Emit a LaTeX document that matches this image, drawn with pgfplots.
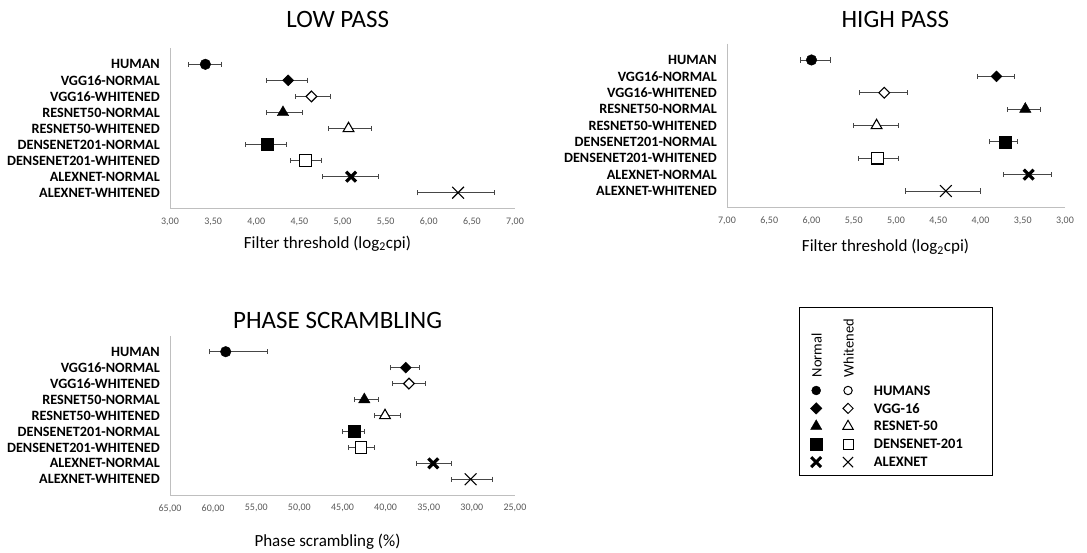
\documentclass[border=0pt]{standalone}
\usepackage{fontspec}
\setmainfont{Carlito}
\usepackage{pgfplots}
\pgfplotsset{compat=1.18}

\definecolor{axisgray}{RGB}{191,191,191}
\definecolor{tickgray}{RGB}{89,89,89}
\definecolor{bargray}{RGB}{70,70,70}

\pgfplotsset{
  panel/.style={
    scale only axis, anchor=south west, clip=false,
    ymin=0, ymax=10, y dir=reverse,
    ytick={1,...,9},
    yticklabels={HUMAN,VGG16-NORMAL,VGG16-WHITENED,RESNET50-NORMAL,RESNET50-WHITENED,DENSENET201-NORMAL,DENSENET201-WHITENED,ALEXNET-NORMAL,ALEXNET-WHITENED},
    axis x line*=bottom, axis y line*=left,
    axis line style={draw=axisgray, line width=0.9pt, -},
    major tick length=0pt, tick style={draw=none},
    yticklabel style={font=\fontsize{14.2}{16}\selectfont\bfseries, inner sep=0pt, xshift=-10pt},
    xticklabel style={font=\fontsize{10}{11}\selectfont, text=tickgray, inner sep=0pt, yshift=-9pt},
    /pgf/number format/fixed,
    /pgf/number format/fixed zerofill,
    /pgf/number format/precision=2,
    /pgf/number format/use comma,
    /pgf/number format/assume math mode=true,
  },
  ttl/.style n args={3}{every axis title/.style={at={(axis description cs:#1,1)}, anchor=base, yshift=#2, font=\fontsize{25}{30}\selectfont}, title={#3}},
  xlab/.style n args={3}{every axis x label/.style={at={(axis description cs:#1,0)}, anchor=base, yshift=#2, font=\fontsize{17}{20}\selectfont}, xlabel={#3}},
  eb/.style={error bars/x dir=both, error bars/x explicit,
    error bars/error bar style={draw=bargray, line width=0.8pt},
    error bars/error mark options={draw=bargray, line width=0.8pt, mark size=2.6pt, rotate=90}},
  m circ/.style={only marks, eb, mark=*, mark size=5.3pt, mark options={draw=black, fill=black}},
  m dia/.style={only marks, eb, mark=square*, mark size=3.9pt, mark options={rotate=45, draw=black, fill=black}},
  m dia o/.style={only marks, eb, mark=square*, mark size=3.8pt, mark options={rotate=45, draw=black, fill=white, line width=1.1pt}},
  m tri/.style={only marks, eb, mark=triangle*, mark size=6.6pt, mark options={draw=black, fill=black}},
  m tri o/.style={only marks, eb, mark=triangle*, mark size=6.2pt, mark options={draw=black, fill=white, line width=1.1pt}},
  m sq/.style={only marks, eb, mark=square*, mark size=6pt, mark options={draw=black, fill=black}},
  m sq o/.style={only marks, eb, mark=square*, mark size=5.7pt, mark options={draw=black, fill=white, line width=1.1pt}},
  m x/.style={only marks, eb, mark=x, mark size=7pt, mark options={draw=black, line width=3.2pt}},
  m x o/.style={only marks, eb, mark=x, mark size=8.3pt, mark options={draw=black, line width=1.1pt}},
  lg/.style={legend image code/.code={\path[draw=none, fill=none] (0pt,0pt) rectangle (17pt,0pt); \draw[##1] plot coordinates {(8.5pt,4.7pt)};}},
  lg head/.style={legend image code/.code={\path[draw=none, fill=none] (0pt,0pt) rectangle (17pt,0pt);
      \node[rotate=90, anchor=base west, inner sep=0pt, draw=none, fill=none, text=black, font=\fontsize{14.5}{16}\selectfont\mdseries] at (14pt,0pt) {#1};}},
}

\begin{document}
\begin{tikzpicture}
\path[use as bounding box] (0pt,0pt) rectangle (1087pt,552pt);

% low pass
\begin{axis}[panel, at={(170pt,343.25pt)}, width=345pt, height=160.5pt,
  xmin=3, xmax=7, xtick={3,3.5,...,7},
  ttl={0.486}{21pt}{LOW PASS},
  xlab={0.4565}{-39.5pt}{Filter threshold (log\textsubscript{2}cpi)}]
\addplot[m circ]  coordinates {(3.41,1) += (0.19,0) -= (0.20,0)};
\addplot[m dia]   coordinates {(4.37,2) += (0.22,0) -= (0.25,0)};
\addplot[m dia o] coordinates {(4.64,3) += (0.22,0) -= (0.19,0)};
\addplot[m tri]   coordinates {(4.31,4) += (0.23,0) -= (0.19,0)};
\addplot[m tri o] coordinates {(5.07,5) += (0.26,0) -= (0.23,0)};
\addplot[m sq]    coordinates {(4.13,6) += (0.22,0) -= (0.25,0)};
\addplot[m sq o]  coordinates {(4.57,7) += (0.18,0) -= (0.17,0)};
\addplot[m x]     coordinates {(5.10,8) += (0.32,0) -= (0.33,0)};
\addplot[m x o]   coordinates {(6.34,9) += (0.42,0) -= (0.47,0)};
\end{axis}

% high pass
\begin{axis}[panel, at={(727pt,344.6pt)}, width=338pt, height=163.8pt,
  xmin=3, xmax=7, xtick={3,3.5,...,7}, x dir=reverse,
  ttl={0.498}{16.3pt}{HIGH PASS},
  xlab={0.469}{-44.3pt}{Filter threshold (log\textsubscript{2}cpi)}]
\addplot[m circ]  coordinates {(6.00,1) += (0.13,0) -= (0.22,0)};
\addplot[m dia]   coordinates {(3.81,2) += (0.23,0) -= (0.21,0)};
\addplot[m dia o] coordinates {(5.14,3) += (0.29,0) -= (0.27,0)};
\addplot[m tri]   coordinates {(3.47,4) += (0.21,0) -= (0.18,0)};
\addplot[m tri o] coordinates {(5.23,5) += (0.27,0) -= (0.26,0)};
\addplot[m sq]    coordinates {(3.71,6) += (0.18,0) -= (0.15,0)};
\addplot[m sq o]  coordinates {(5.22,7) += (0.22,0) -= (0.25,0)};
\addplot[m x]     coordinates {(3.43,8) += (0.30,0) -= (0.27,0)};
\addplot[m x o]   coordinates {(4.41,9) += (0.48,0) -= (0.41,0)};
\end{axis}

% phase scrambling
\begin{axis}[panel, at={(170pt,56.75pt)}, width=345pt, height=159.5pt,
  xmin=25, xmax=65, xtick={25,30,...,65}, x dir=reverse,
  ttl={0.486}{7.45pt}{PHASE SCRAMBLING},
  xlab={0.4565}{-50.75pt}{Phase scrambling (\%)}]
\addplot[m circ]  coordinates {(58.54,1) += (1.94,0) -= (4.87,0)};
\addplot[m dia]   coordinates {(37.67,2) += (1.74,0) -= (1.57,0)};
\addplot[m dia o] coordinates {(37.29,3) += (1.94,0) -= (1.86,0)};
\addplot[m tri]   coordinates {(42.47,4) += (1.16,0) -= (1.62,0)};
\addplot[m tri o] coordinates {(40.07,5) += (1.28,0) -= (1.82,0)};
\addplot[m sq]    coordinates {(43.63,6) += (1.35,0) -= (1.16,0)};
\addplot[m sq o]  coordinates {(42.86,7) += (1.47,0) -= (1.51,0)};
\addplot[m x]     coordinates {(34.47,8) += (1.93,0) -= (2.13,0)};
\addplot[m x o]   coordinates {(30.14,9) += (2.20,0) -= (2.55,0)};
\end{axis}

% legend box
\begin{axis}[at={(799.3pt,76.3pt)}, anchor=south west, scale only axis,
  width=193pt, height=168pt, xmin=0, xmax=1, ymin=0, ymax=1,
  xtick=\empty, ytick=\empty, axis line style={draw=black, line width=0.8pt},
  legend columns=2,
  legend style={at={(axis description cs:0.0425,0.0167)}, anchor=south west,
    draw=none, fill=none, inner sep=0pt,
    font=\fontsize{14.5}{16}\selectfont\bfseries,
    cells={anchor=base west},
    nodes={inner sep=0pt, text height=12pt, text depth=5.9pt},
    /tikz/column 2/.style={column sep=10.93pt},
    /tikz/column 3/.style={column sep=14.43pt}}]
\addlegendimage{lg head=Normal}\addlegendentry{\mbox{}}
\addlegendimage{lg head=Whitened}\addlegendentry{\mbox{}}
\addlegendimage{lg, mark=*, mark size=4.5pt, mark options={fill=black}}\addlegendentry{\mbox{}}
\addlegendimage{lg, mark=o, mark size=4.2pt, mark options={line width=1pt}}\addlegendentry{HUMANS}
\addlegendimage{lg, mark=square*, mark size=4.1pt, mark options={rotate=45, fill=black}}\addlegendentry{\mbox{}}
\addlegendimage{lg, mark=square, mark size=3.6pt, mark options={rotate=45, line width=1pt}}\addlegendentry{VGG-16}
\addlegendimage{lg, mark=triangle*, mark size=6.5pt, mark options={fill=black}}\addlegendentry{\mbox{}}
\addlegendimage{lg, mark=triangle, mark size=6pt, mark options={line width=1pt}}\addlegendentry{RESNET-50}
\addlegendimage{lg, mark=square*, mark size=5.8pt, mark options={fill=black}}\addlegendentry{\mbox{}}
\addlegendimage{lg, mark=square, mark size=5pt, mark options={line width=1pt}}\addlegendentry{DENSENET-201}
\addlegendimage{lg, mark=x, mark size=7pt, mark options={line width=3pt}}\addlegendentry{\mbox{}}
\addlegendimage{lg, mark=x, mark size=7.2pt, mark options={line width=1pt}}\addlegendentry{ALEXNET}
\end{axis}
\end{tikzpicture}
\end{document}
